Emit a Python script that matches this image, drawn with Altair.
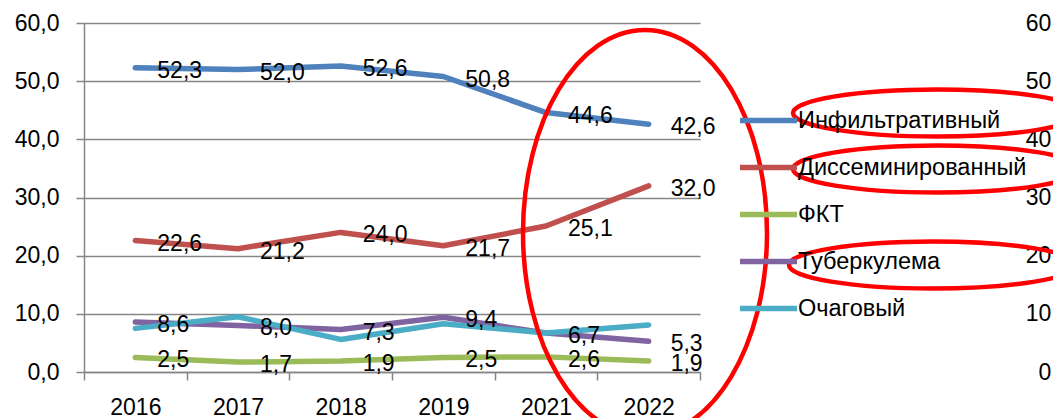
import altair as alt
import pandas as pd

years = ["2016", "2017", "2018", "2019", "2021", "2022"]
series_names = ["Инфильтративный", "Диссеминированный", "ФКТ", "Туберкулема", "Очаговый"]
infiltr = [52.3, 52.0, 52.6, 50.8, 44.6, 42.6]
dissem = [22.6, 21.2, 24.0, 21.7, 25.1, 32.0]
fkt = [2.5, 1.7, 1.9, 2.5, 2.6, 1.9]
tuberk = [8.6, 8.0, 7.3, 9.4, 6.7, 5.3]
ochag = [7.5, 9.5, 5.6, 8.3, 6.7, 8.1]
colors = ["#4F81BD", "#C0504D", "#9BBB59", "#8064A2", "#4BACC6"]
labeled = ["Инфильтративный", "Диссеминированный", "ФКТ", "Туберкулема"]
y_ticks = [0, 10, 20, 30, 40, 50, 60]

rows = []
for name, vals in zip(series_names, [infiltr, dissem, fkt, tuberk, ochag]):
    for yr, v in zip(years, vals):
        rows.append({"year": yr, "series": name, "value": v,
                     "label": f"{v:.1f}".replace(".", ",")})
df = pd.DataFrame(rows)

FONT = "Liberation Sans"
GRID = "#868686"
LBL = "replace(format(datum.value, '.1f'), '.', ',')"

x_enc = alt.X("year:N", sort=years, bandPosition=0.5,
              scale=alt.Scale(type="band", paddingInner=0, paddingOuter=0),
              axis=alt.Axis(title=None, tickBand="extent", labelAngle=0, grid=False,
                            domainColor=GRID, tickColor=GRID, tickSize=8, tickWidth=1.5,
                            domainWidth=1.5, labelFontSize=23, labelPadding=16))
y_scale = alt.Scale(domain=[0, 60], nice=False, zero=True)

lines = alt.Chart(df).mark_line(strokeWidth=5.5, strokeCap="round", strokeJoin="round").encode(
    x=x_enc,
    y=alt.Y("value:Q", scale=y_scale,
            axis=alt.Axis(title=None, values=y_ticks, labelExpr=LBL, grid=True,
                          gridColor=GRID, gridWidth=1.5, domainColor=GRID, domainWidth=1.5,
                          tickColor=GRID, tickWidth=1.5, tickSize=8, labelFontSize=23,
                          labelPadding=17)),
    color=alt.Color("series:N", sort=series_names,
                    scale=alt.Scale(domain=series_names, range=colors),
                    legend=alt.Legend(title=None, orient="none", legendX=672, legendY=85,
                                      symbolType="M -3 0 L 3 0", symbolStrokeWidth=5.5,
                                      symbolSize=361, labelFontSize=23.5, labelFont=FONT,
                                      labelColor="black", rowPadding=23, labelOffset=17,
                                      labelLimit=600, padding=0)),
)

texts = alt.Chart(df).transform_filter(
    alt.FieldOneOfPredicate(field="series", oneOf=labeled)
).mark_text(align="left", baseline="middle", dx=22, dy=3, fontSize=23, font=FONT,
            color="black").encode(
    x=x_enc,
    y=alt.Y("value:Q", scale=y_scale),
    text="label:N",
)

main = alt.layer(lines, texts)

right_axis = alt.Chart(df).mark_line(opacity=0).encode(
    x=x_enc,
    y=alt.Y("value:Q", scale=y_scale,
            axis=alt.Axis(orient="right", title=None, values=y_ticks, labelExpr=LBL,
                          grid=False, domain=False, ticks=False, labelAlign="right",
                          labelPadding=370, labelFontSize=23)),
)

one = pd.DataFrame({"a": [0]})
RED = "#FF0000"
big_ellipse = alt.Chart(one).mark_point(
    shape="M -0.601 0 A 0.601 1 0 1 0 0.601 0 A 0.601 1 0 1 0 -0.601 0 Z",
    filled=False, stroke=RED, strokeWidth=4.5, opacity=1).encode(
    x=alt.value(561), y=alt.value(210), size=alt.value(164836))

leg_shape = "M -1 0 A 1 0.163 0 1 0 1 0 A 1 0.163 0 1 0 -1 0 Z"
leg_ell = []
for cx, cy in [(853, 90), (853, 146), (849, 242)]:
    leg_ell.append(alt.Chart(one).mark_point(
        shape=leg_shape, filled=False, stroke=RED, strokeWidth=4.5, opacity=1).encode(
        x=alt.value(cx), y=alt.value(cy), size=alt.value(82944)))

chart = alt.layer(main, right_axis, big_ellipse, *leg_ell).resolve_scale(
    y="independent"
).properties(
    width=616, height=349,
    padding={"left": 76, "top": 15, "right": 353, "bottom": 46},
    autosize=alt.AutoSizeParams(type="none"),
).configure_view(stroke=None).configure_axis(
    labelFont=FONT, labelColor="black"
).configure_text(font=FONT)

chart.save("out.html", embed_options={"renderer": "svg", "actions": False})
